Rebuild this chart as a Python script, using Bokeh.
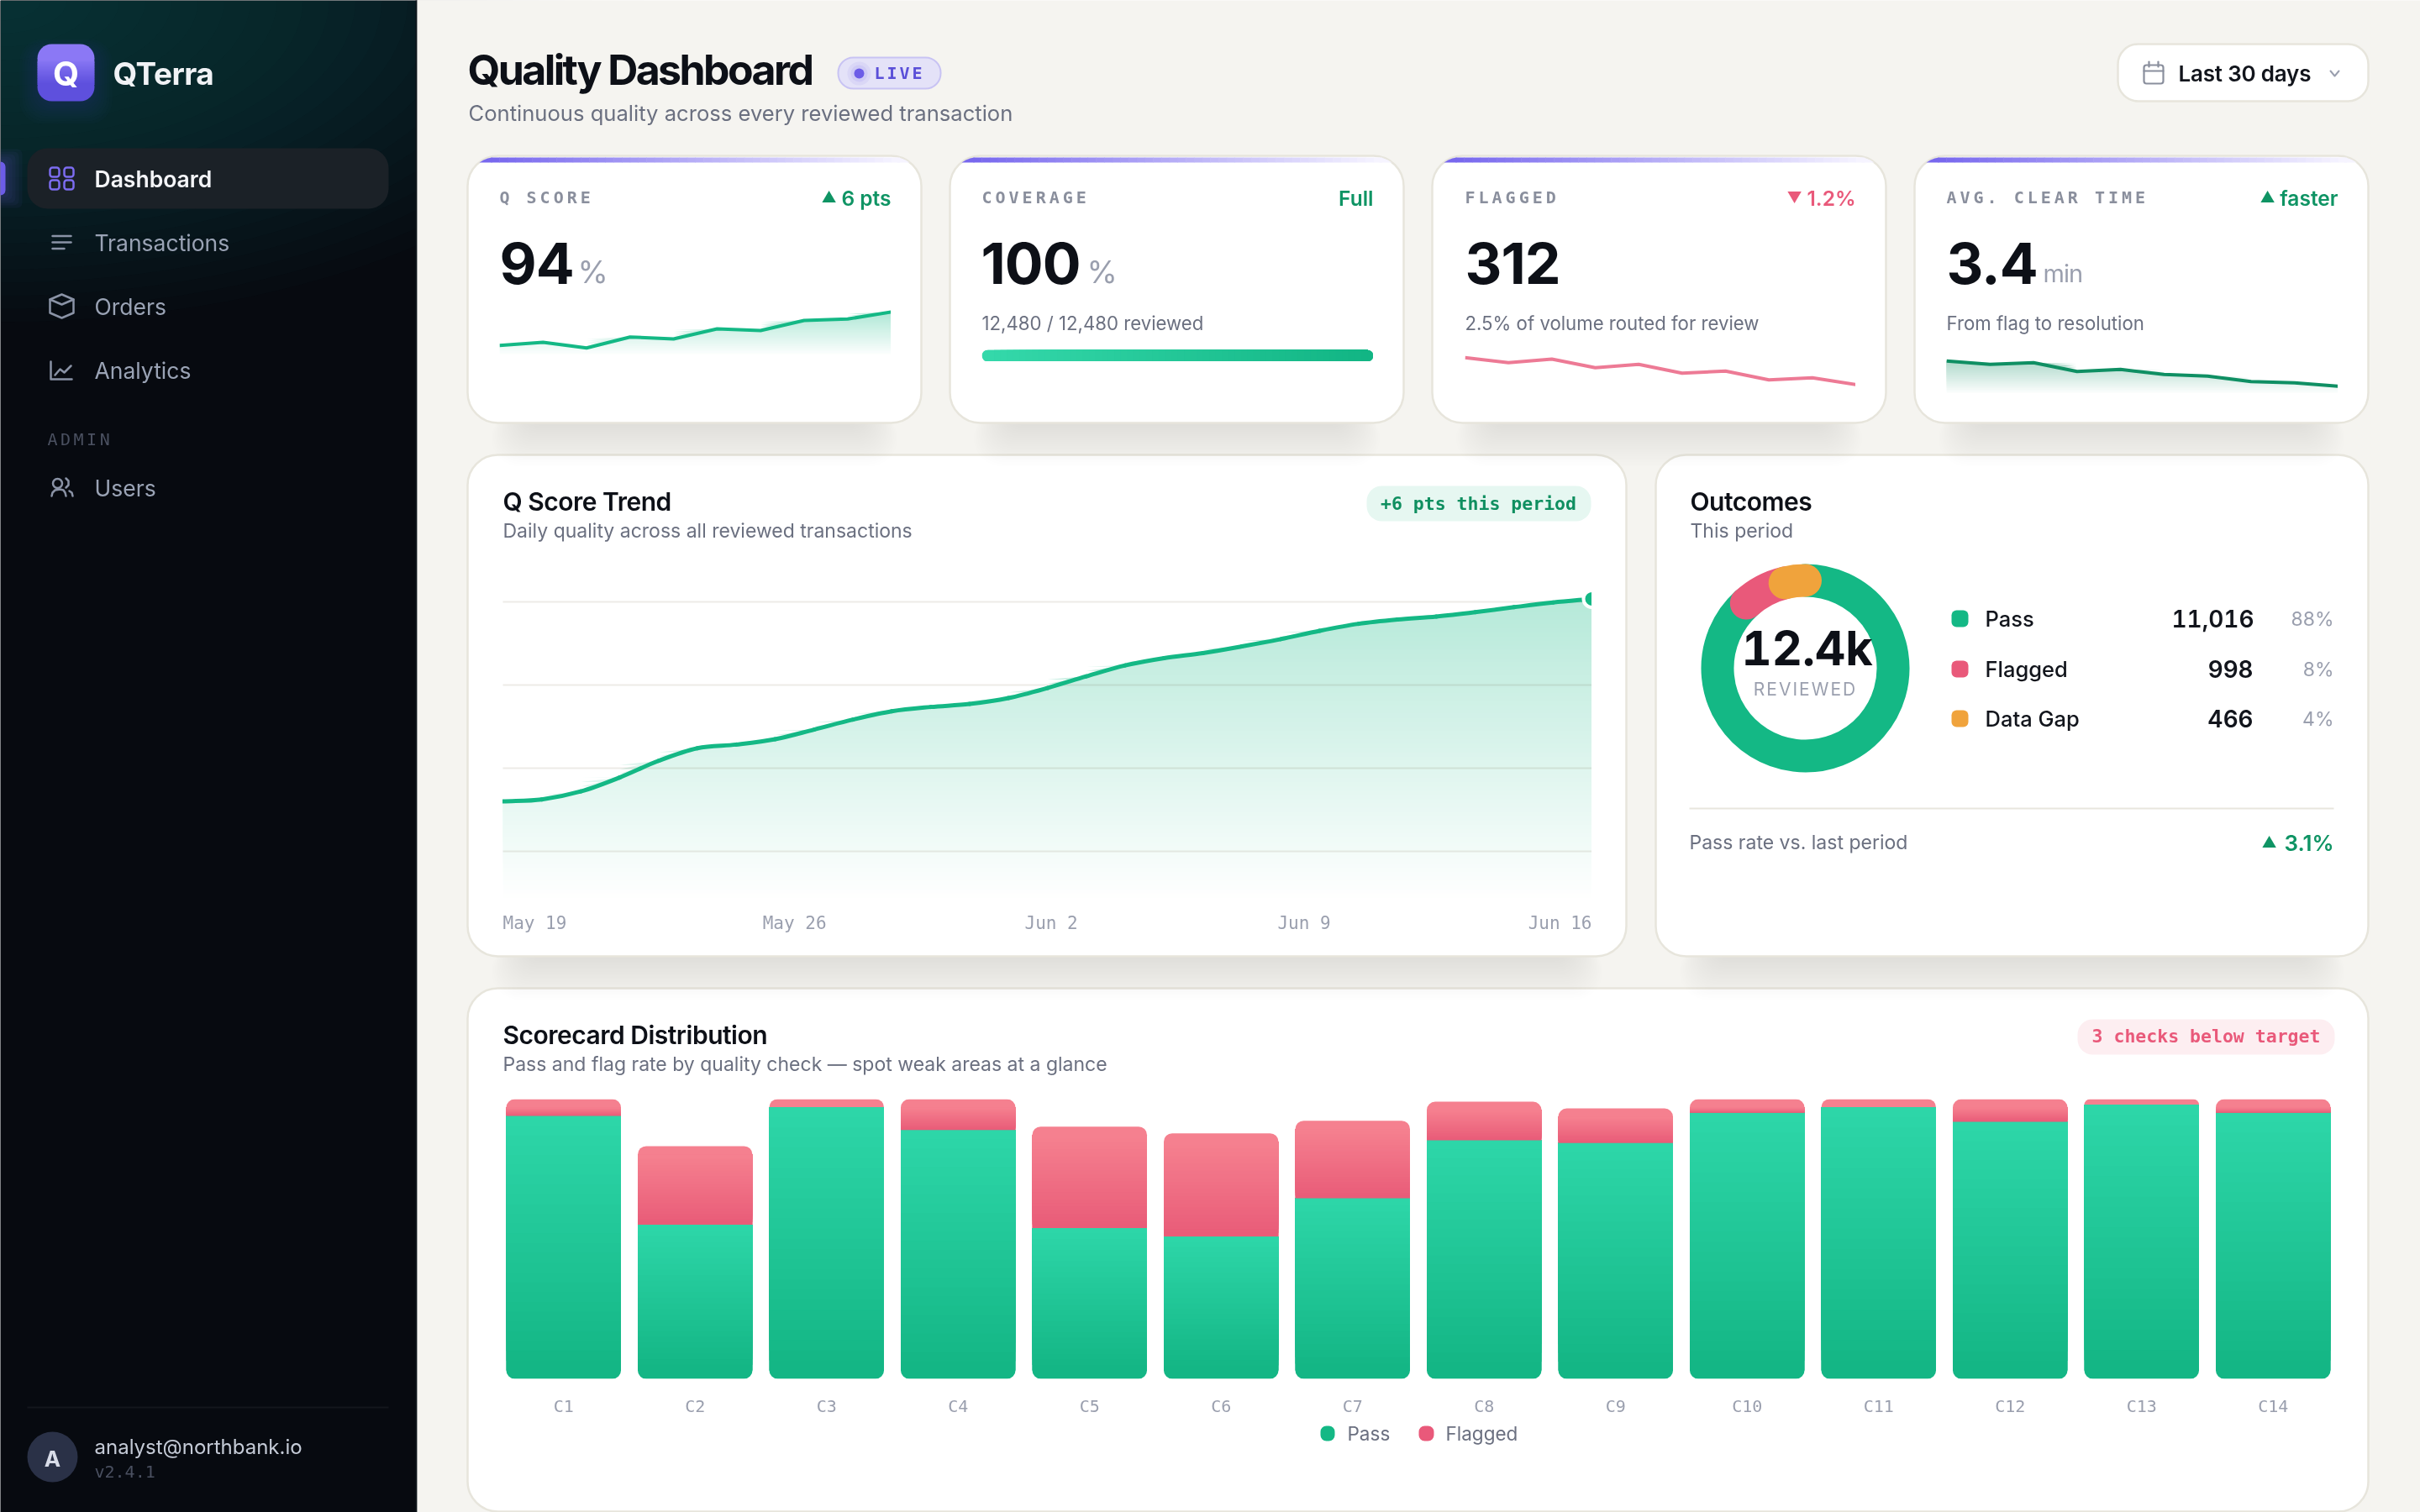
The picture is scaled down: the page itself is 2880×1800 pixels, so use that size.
import numpy as np
from bokeh.plotting import figure
from bokeh.layouts import column
from bokeh.models import Range1d, FactorRange, FixedTicker, ColumnDataSource
from bokeh.core.properties import value
from bokeh.embed import file_html
from bokeh.resources import INLINE

# ---------- data ----------
categories = ["C1","C2","C3","C4","C5","C6","C7","C8","C9","C10","C11","C12","C13","C14"]
pass_rate  = [94.0,55.1,97.1,89.0,53.9,50.9,64.6,85.3,84.3,95.1,97.1,91.9,98.0,95.1]
total_rate = [100.0,83.2,100.0,100.0,90.2,87.8,92.3,99.1,96.7,100.0,100.0,100.0,100.0,100.0]
trend_days = list(range(29))
trend_score = [87.99,88.05,88.29,88.71,89.21,89.59,89.70,89.86,90.15,90.45,90.70,90.83,90.92,91.10,
               91.40,91.75,92.08,92.30,92.45,92.65,92.87,93.12,93.33,93.46,93.55,93.68,93.83,93.97,94.08]
trend_tick_pos = [0.8,7.5,14.1,20.6,27.2]
trend_tick_lab = ["May 19","May 26","Jun 2","Jun 9","Jun 16"]
trend_grid = [86.5,89.0,91.5,94.0]
spark_q       = [11.3,15.0,8.3,21.3,19.0,31.0,29.0,41.0,42.7,51.0]
spark_flagged = [42.7,36.7,41.0,30.7,34.7,24.3,26.7,16.3,18.7,10.7]
spark_clear   = [38.7,34.7,36.7,26.3,28.7,22.7,20.7,14.3,12.7,8.7]
coverage_pct = 100
outcome_names  = ["Pass","Flagged","Data Gap"]
outcome_counts = [11016,998,466]
outcome_pct    = ["88%","8%","4%"]

GREEN="#14b885"; DGREEN="#0f9464"; RED="#e9597a"; ORANGE="#f0a33c"; INK="#0d1017"; GREY="#6b7080"; LIGHT="#9a9fae"
BG="#f5f4f0"; BORDER="#e7e5dc"; VIOLET="#6c5ce7"
SANS="Inter"; MONO="DejaVu Sans Mono"; SEMI="Inter SemiBold"; MED="Inter Medium"

def fig(x_range,y_range,left,top,**kw):
    f=figure(x_range=x_range,y_range=y_range,toolbar_location=None,tools="",output_backend="svg",
             background_fill_color=None,border_fill_color=None,outline_line_color=None,min_border=0,
             styles={"position":"absolute","left":f"{left}px","top":f"{top}px"},**kw)
    return f
def bare(f):
    f.xaxis.visible=False; f.yaxis.visible=False; f.xgrid.visible=False; f.ygrid.visible=False
    return f
def mix(a,b,t):
    a=[int(a[i:i+2],16) for i in (1,3,5)]; b=[int(b[i:i+2],16) for i in (1,3,5)]
    return "#%02x%02x%02x"%tuple(int(round(a[k]+(b[k]-a[k])*t)) for k in range(3))

# ---------- background ----------
bg=bare(fig(Range1d(0,2880),Range1d(1800,0),0,0,width=2880,height=1800))
def R(x0,y0,x1,y1,c,r=0,a=1.0,lc=None,lw=2):
    bg.quad(left=x0,right=x1,top=y0,bottom=y1,fill_color=c,fill_alpha=a,line_color=lc,line_width=lw,border_radius=r)
def PL(xs,ys,c,lw=2.5):
    bg.line(xs,ys,line_color=c,line_width=lw,line_join="round",line_cap="round")

R(-6,-6,496,1806,"#070a10")
for i in range(24):
    rr=40+i*26
    bg.ellipse(x=[0],y=[0],width=[2.4*rr],height=[1.2*rr],fill_color="#1f6660",fill_alpha=0.028,line_color=None)
R(494,-6,496,1806,"#10171c")
R(496,-6,2886,1806,BG)

def card(x0,y0,x1,y1):
    R(x0,y0,x1,y1,"#ffffff",36,1.0,BORDER,2.5)
def shadow(x0,y1,x1):
    for i in range(26):
        R(x0+78-i*2,y1-40+i,x1-78+i*2,y1-8+i*2.4,"#302f28",44,0.0032)

shadow(556,1800,2818)
card(556,1176,2818,1799)
shadow(556,1138,1935); shadow(1970,1138,2818)
card(556,541,1935,1138)
card(1970,541,2818,1138)
for x0 in (556,1130,1704,2278):
    shadow(x0,503,x0+540)
    card(x0,185,x0+540,503)
    n=50; xs=np.linspace(x0+28,x0+514,n+1)
    cols=[mix("#7868ee","#f6f4ff",i/(n-1)) for i in range(n)]
    bg.patch([x0+14,x0+19,x0+24,x0+29,x0+29],[193,190,188,187,193],fill_color=cols[0],line_color=None)
    bg.patch([x0+511,x0+516,x0+521,x0+526,x0+511],[187,188,190,193,193],fill_color=cols[-1],line_color=None)
    for i in range(n):
        R(xs[i],187,xs[i+1]+0.5,193,cols[i])

# date pill
R(2520,52,2818,120,"#ffffff",24,1,BORDER,2.5)
# LIVE pill
R(997,68,1119,105,"#e4e2f8",18,1,"#c8c3f3",2)
for r_,a_ in ((14,.08),(10,.1)):
    bg.circle(x=[1022],y=[87],radius=[r_],fill_color=VIOLET,fill_alpha=a_,line_color=None)
bg.circle(x=[1022],y=[87],radius=[6],fill_color=VIOLET,line_color=None)
# pills
R(1626,578,1893,620,"#e6f7f1",18)
R(2472,1213,2778,1255,"#fdeef1",18)

# sidebar elements
for i in range(8):
    R(44-i*3,52-i*2+8,112+i*3,120+i*3+6,"#5b4ddb",20+i,0.025)
R(44,86,112,120,"#5e50dd",20)
R(44,52,112,86,"#8b78f5",20)
for i in range(14):
    y=72+i*2
    R(44,y,112,y+2.4,mix("#8574f2","#5e50dd",i/13))
for i in range(6):
    R(-6,192-i*3,6+i*4,232+i*3,VIOLET,6,0.05)
R(-6,192,6,232,VIOLET,6)
R(32,176,462,248,"#1b2127",24)

for (a,b,c,d) in ((59,199,70,210),(76,199,87,210),(59,214,70,225),(76,214,87,225)):
    R(a,b,c,d,None,3,0,"#7c6cf0",2.5)
NAVI="#8a93a6"
PL([62,84],[280.5,280.5],NAVI); PL([62,84],[288,288],NAVI); PL([62,76],[295.5,295.5],NAVI)
PL([59,73,87,87,73,59,59],[356,350,356,372,378,372,356],NAVI)
PL([59,73,87],[356,362,356],NAVI)
PL([60,60,85],[430,451,451],NAVI); PL([65,71,76,84],[446,439,443,435],NAVI)
bg.circle(x=[68],y=[575],radius=[5.5],fill_color=None,line_color=NAVI,line_width=2.5)
PL([61,62,65,71,75,77,78],[590,586,583,582,583,586,590],NAVI)
PL([78,81,81,78],[569,572,577,580],NAVI); PL([82,85,86],[584,586,590],NAVI)
R(32,1674,462,1676,"#14171d")
bg.circle(x=[62],y=[1734],radius=[30],fill_color="#2a3147",line_color=None)
# calendar + chevron
R(2551,77,2574,99,None,3,0,"#8a8f9d",2.2)
PL([2551,2574],[84,84],"#8a8f9d",2.2); PL([2557,2557],[73,79],"#8a8f9d",2.2); PL([2568,2568],[73,79],"#8a8f9d",2.2)
PL([2773,2778,2783],[84,90,84],LIGHT,2)
# outcomes divider
R(2010,961,2777,963,"#e8e6dd")
# legend swatches
for (a,b,c,col) in ((2322,726,746,GREEN),(2322,786,806,RED),(2322,845,865,ORANGE)):
    R(a,b,a+20,c,col,6)
R(1571,1697,1588,1715,GREEN,7); R(1688,1697,1706,1715,RED,7)

figs=[bg]

def grad_area(f,xs,vals,y0,y1,top_color,n):
    """opaque nested bands under a series: paler towards the base"""
    vals=np.asarray(vals,float)
    for i in range(n):
        b_=y0+(y1-y0)*i/n
        f.varea(xs,np.full(len(vals),b_),np.maximum(vals,b_),fill_color=mix("#ffffff",top_color,(i+1)/n))

# ---------- sparklines ----------
def spark(vals,left,top,w,h,color,alpha,fill):
    f=bare(fig(Range1d(0,len(vals)-1),Range1d(0,h),left,top,width=w,height=h))
    xs=list(range(len(vals)))
    if fill:
        grad_area(f,xs,vals,0,max(vals),mix("#ffffff",color,0.33),24)
    f.line(xs,vals,line_color=color,line_alpha=alpha,line_width=4,line_join="round")
    figs.append(f)
spark(spark_q,594,364,466,58,GREEN,1,True)
spark(spark_flagged,1743,420,465,48,RED,0.8,False)
spark(spark_clear,2316,420,466,48,"#0f8f63",1,True)

# progress bar
pf=bare(fig(Range1d(0,100),Range1d(0,1),1168,416,width=466,height=14))
pf.quad(left=0,right=coverage_pct/2,bottom=0,top=1,fill_color="#34d8aa",line_color=None,border_radius=7)
pf.quad(left=coverage_pct/2,right=coverage_pct,bottom=0,top=1,fill_color="#12b584",line_color=None,border_radius=7)
n=60; e=np.linspace(1.5,coverage_pct-1.5,n+1)
pf.quad(left=e[:-1],right=e[-1],bottom=0,top=1,fill_color=[mix("#34d8aa","#12b584",i/(n-1)) for i in range(n)],line_color=None)
figs.append(pf)

# ---------- trend ----------
tf=fig(Range1d(0,28),Range1d(85,85+372/39.6),598,700,frame_width=1296,frame_height=372)
tf.yaxis.visible=False; tf.xgrid.visible=False
tf.ygrid.ticker=FixedTicker(ticks=trend_grid)
tf.ygrid.grid_line_color="#5a4a20"; tf.ygrid.grid_line_alpha=0.11; tf.ygrid.grid_line_width=2; tf.ygrid.level="guide"
grad_area(tf,trend_days,trend_score,85.1,94.1,mix("#ffffff",GREEN,0.31),70)
ts=np.array(trend_score); td=np.array(trend_days,float)
im=np.r_[0,(ts[2:]-ts[:-2])/2,ts[-1]-ts[-2]]
im[0]=ts[1]-ts[0]
tf.bezier(x0=td[:-1],y0=ts[:-1],x1=td[1:],y1=ts[1:],cx0=td[:-1]+1/3,cy0=ts[:-1]+im[:-1]/3,
          cx1=td[1:]-1/3,cy1=ts[1:]-im[1:]/3,line_color=GREEN,line_width=5,line_cap="round",level="annotation")
tf.scatter([trend_days[-1]],[trend_score[-1]],size=20,fill_color=GREEN,line_color="#ffffff",line_width=4,level="annotation")
ax=tf.xaxis[0]
ax.ticker=FixedTicker(ticks=trend_tick_pos)
ax.major_label_overrides=dict(zip(trend_tick_pos,trend_tick_lab))
ax.axis_line_color=None; ax.major_tick_line_color=None; ax.minor_tick_line_color=None
ax.major_tick_in=0; ax.major_tick_out=0
ax.major_label_standoff=14
ax.major_label_text_font=MONO; ax.major_label_text_font_size="21px"; ax.major_label_text_color=LIGHT
figs.append(tf)

# ---------- donut ----------
df=bare(fig(Range1d(-140,140),Range1d(-140,140),2008,655,width=280,height=280))
tot=sum(outcome_counts); a0=np.pi/2
for cnt,col in zip(outcome_counts,(GREEN,RED,ORANGE)):
    a1=a0-2*np.pi*cnt/tot
    df.arc(x=[0],y=[0],radius=[104.5],start_angle=[a0],end_angle=[a1],direction="clock",line_color=col,line_width=39,line_cap="round")
    a0=a1
figs.append(df)

# ---------- bars ----------
bf=fig(FactorRange(factors=categories,range_padding=0),Range1d(0,100),592,1308,frame_width=2191,frame_height=333)
bf.yaxis.visible=False; bf.grid.visible=False
BW=136.5/156.5
R_D=3.0
P_T,P_B="#2dd6a8","#14b685"; F_T,F_B="#f5808f","#e95c78"
bf.vbar(x=categories,bottom=0,top=pass_rate,width=BW,fill_color=P_B,line_color=None,border_radius=(0,0,10,10))
bf.vbar(x=categories,bottom=pass_rate,top=total_rate,width=BW,fill_color=F_T,line_color=None,border_radius=(10,10,0,0))
sx,sb,st,sc=[],[],[],[]
N=26
for c,p_,t_ in zip(categories,pass_rate,total_rate):
    for i in range(N):
        sx.append(c); sb.append(R_D+(p_-R_D)*i/N); st.append(p_); sc.append(mix(P_B,P_T,i/(N-1)))
    tt=t_-R_D
    if tt>p_:
        for i in range(N):
            b_=p_+(tt-p_)*i/N
            sx.append(c); sb.append(b_); st.append(tt); sc.append(mix(F_B,F_T,i/(N-1)))
bf.vbar(x="x",bottom="b",top="t",width=BW,fill_color="c",line_color=None,source=ColumnDataSource(dict(x=sx,b=sb,t=st,c=sc)))
ax=bf.xaxis[0]
ax.axis_line_color=None; ax.major_tick_line_color=None; ax.minor_tick_line_color=None
ax.major_tick_in=0; ax.major_tick_out=0; ax.major_label_standoff=20
ax.major_label_text_font=MONO; ax.major_label_text_font_size="20px"; ax.major_label_text_color=LIGHT
figs.append(bf)

# ---------- text layers ----------
layers={}
def T(x,y,s,size,color,bold=False,align="left",base="middle",font=SANS,ls="0px",tnum=False):
    key=(ls,tnum)
    if key not in layers:
        f=bare(fig(Range1d(0,2880),Range1d(1800,0),0,0,width=2880,height=1800))
        st_={**f.styles,"letter-spacing":ls}
        if tnum: st_["font-variant-numeric"]="tabular-nums"; st_["font-feature-settings"]="'tnum' 1"
        f.styles=st_
        layers[key]=f; figs.append(f)
    layers[key].text(x=[x],y=[y],text=[s],text_font=value(font),text_font_size=f"{size}px",text_color=color,
                    text_font_style="bold" if bold else "normal",text_align=align,text_baseline=base)

T(134,87,"QTerra",37,"#f0f2f5",True,ls="-0.5px")
T(78,87,"Q",40,"#ffffff",True,"center")
T(112,212,"Dashboard",26.5,"#f4f5f8",font=SEMI)
for lab,y in (("Transactions",288),("Orders",364),("Analytics",440),("Users",580)):
    T(112,y,lab,26.5,"#9aa3b5")
T(56,522,"ADMIN",20,"#4a5060",font=MONO,ls="3.5px")
T(62,1736,"A",26,"#d8dce8",True,"center")
T(112,1722,"analyst@northbank.io",24,"#c4cad6")
T(112,1751,"v2.4.1",20,"#4a5060",font=MONO)

T(556,82,"Quality Dashboard",50,INK,True,ls="-2.6px")
T(557,134,"Continuous quality across every reviewed transaction",25.6,GREY)
T(1040,86,"LIVE",20,"#5a4fd8",True,font=MONO,ls="3px")
T(2592,87,"Last 30 days",26,"#12151c",font=SEMI,ls="-0.2px")

for x,s in ((594,"Q SCORE"),(1168,"COVERAGE"),(1743,"FLAGGED"),(2316,"AVG. CLEAR TIME")):
    T(x,234,s,20,"#8a8f9d",True,font=MONO,ls="4px")
for x,s,c in ((1060,"6 pts",DGREEN),(1634,"Full",DGREEN),(2208,"1.2%",RED),(2782,"faster",DGREEN)):
    T(x,235,s,24.5,c,font=SEMI,align="right")
T(986,234,"▲",18,DGREEN,align="center")
T(2135,235,"▼",18,RED,align="center")
T(2698,234,"▲",18,DGREEN,align="center")
for x,s in ((594,"94"),(1167,"100"),(1743,"312"),(2316,"3.4")):
    T(x,313,s,68,INK,True,ls="-1px")
T(687,323,"%",37,LIGHT)
T(1293,323,"%",37,LIGHT)
T(2431,325,"min",29,LIGHT,ls="-1px")
T(1168,384,"12,480 / 12,480 reviewed",22.2,GREY)
T(1743,384,"2.5% of volume routed for review",22.2,GREY)
T(2316,384,"From flag to resolution",22.2,GREY)

T(598,596,"Q Score Trend",30,INK,font=SEMI,ls="-0.5px")
T(598,631,"Daily quality across all reviewed transactions",23,GREY)
T(1759,599,"+6 pts this period",21.5,"#0f8f60",True,"center",font=MONO)
T(2011,596,"Outcomes",30,INK,font=SEMI,ls="-0.5px")
T(2011,631,"This period",23,GREY)
T(2072,771,"12.4k",56,INK,True,tnum=True)
T(2140,820,"REVIEWED",21,LIGHT,align="center",ls="2px")
for n_,c_,p_,y in zip(outcome_names,outcome_counts,outcome_pct,(736,796,855)):
    T(2362,y,n_,25.5,"#12151c",font=MED)
    if c_>=10000:
        T(2584,y,f"{c_:,}",28,"#12151c",font=SEMI,tnum=True)
    else:
        T(2681,y,f"{c_:,}",28,"#12151c",font=SEMI,align="right")
    T(2777,y,p_,23,LIGHT,align="right")
T(2010,1002,"Pass rate vs. last period",23,GREY)
T(2777,1003,"3.1%",26,DGREEN,font=SEMI,align="right")
T(2700,1002,"▲",18,DGREEN,align="center")

T(598,1231,"Scorecard Distribution",30,INK,font=SEMI,ls="-0.5px")
T(598,1266,"Pass and flag rate by quality check — spot weak areas at a glance",23,GREY)
T(2625,1233,"3 checks below target",21.5,RED,True,"center",font=MONO)
T(1603,1706,"Pass",22.5,GREY)
T(1720,1706,"Flagged",22.5,GREY)

p=column(children=figs,width=2880,height=1800,sizing_mode="fixed",
         styles={"position":"fixed","left":"0px","top":"0px"})
open("out.html","w").write(file_html(p,INLINE))
